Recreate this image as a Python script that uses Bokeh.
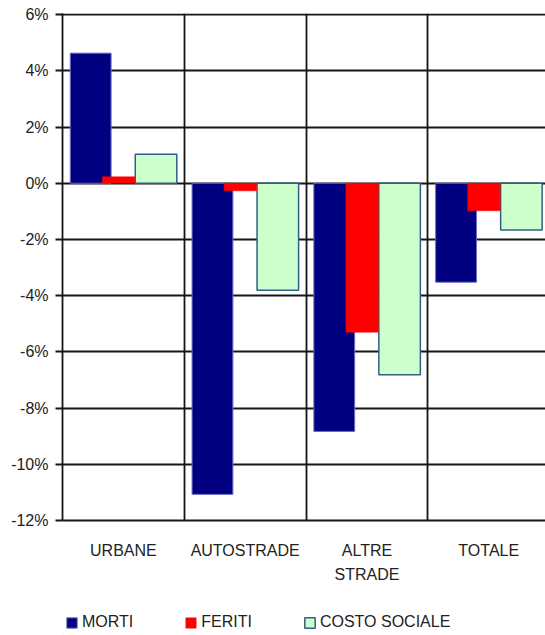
import numpy as np
from bokeh.plotting import figure
from bokeh.layouts import column
from bokeh.models import (Range1d, FixedTicker, PrintfTickFormatter, Legend,
                          LegendItem, ColumnDataSource)
from bokeh.embed import file_html
from bokeh.resources import INLINE

# ---- data ----
categories = ["URBANE", "AUTOSTRADE", "ALTRE\nSTRADE", "TOTALE"]
morti = [4.63, -11.07, -8.83, -3.52]
feriti = [0.23, -0.27, -5.30, -0.98]
costo_sociale = [1.03, -3.81, -6.81, -1.66]
series_names = ["MORTI", "FERITI", "COSTO SOCIALE"]
y_ticks = [-12, -10, -8, -6, -4, -2, 0, 2, 4, 6]

idx = np.arange(len(categories))

FONT = "Liberation Sans"
TXT = "#222222"
GRID = "#151515"
C_M = dict(fill_color="#000080", line_color="#6a6ac0", line_width=1)
C_F = dict(fill_color="#FF0000", line_color="#FF0000", line_width=0.5)
C_C = dict(fill_color="#CCFFCC", line_color="#2f5f85", line_width=1.5)

p = figure(width=545, height=600,
           x_range=Range1d(0, 3.966), y_range=Range1d(-12, 6.04),
           output_backend="svg", toolbar_location=None,
           min_border_left=62, min_border_right=0,
           min_border_top=13, min_border_bottom=80)
p.outline_line_color = None
p.background_fill_color = "white"

# bars (red drawn after blue so it overlaps it)
src_m = ColumnDataSource(dict(x=idx + 0.2315, top=morti))
src_f = ColumnDataSource(dict(x=idx + 0.4606, top=feriti))
src_c = ColumnDataSource(dict(x=idx + 0.768, top=costo_sociale))

p.vbar(x="x", top="top", bottom=0, width=0.335, source=src_m, **C_M)
p.vbar(x="x", top="top", bottom=0, width=0.341, source=src_c, **C_C)
p.vbar(x="x", top="top", bottom=0, width=0.266, source=src_f, **C_F)

# grids
p.xgrid.ticker = FixedTicker(ticks=[1, 2, 3, 4])
p.xgrid.grid_line_color = GRID
p.xgrid.grid_line_width = 1.8
p.ygrid.ticker = FixedTicker(ticks=y_ticks)
p.ygrid.grid_line_color = GRID
p.ygrid.grid_line_width = 1.8

# x axis
p.xaxis.ticker = FixedTicker(ticks=[float(i) + 0.5 for i in idx])
p.xaxis.major_label_overrides = {float(i) + 0.5: c for i, c in zip(idx, categories)}
p.xaxis.major_tick_line_color = None
p.xaxis.minor_tick_line_color = None
p.xaxis.axis_line_color = GRID
p.xaxis.axis_line_width = 1.8
p.xaxis.major_label_standoff = 15
p.xaxis.major_label_text_font = FONT
p.xaxis.major_label_text_font_size = "16px"
p.xaxis.major_label_text_color = TXT
p.xaxis.major_label_text_line_height = 1.45

# y axis
p.yaxis.ticker = FixedTicker(ticks=y_ticks)
p.yaxis.formatter = PrintfTickFormatter(format="%d%%")
p.yaxis.major_tick_in = 0
p.yaxis.major_tick_out = 7
p.yaxis.major_tick_line_width = 1.8
p.yaxis.major_tick_line_color = GRID
p.yaxis.minor_tick_line_color = None
p.yaxis.axis_line_color = GRID
p.yaxis.axis_line_width = 1.8
p.yaxis.major_label_standoff = 7
p.yaxis.major_label_text_font = FONT
p.yaxis.major_label_text_font_size = "16px"
p.yaxis.major_label_text_color = TXT

# ---- legend strip (proxy glyphs kept outside its visible range) ----
pl = figure(width=545, height=35, output_backend="svg", toolbar_location=None,
            x_range=Range1d(10, 11), y_range=Range1d(10, 11),
            x_axis_type=None, y_axis_type=None,
            min_border_left=0, min_border_right=0, min_border_top=0,
            min_border_bottom=0)
pl.outline_line_color = None
pl.xgrid.visible = False
pl.ygrid.visible = False
proxy = dict(x=[0], top=[0])
l_m = pl.vbar(x="x", top="top", width=1, source=ColumnDataSource(proxy), **C_M)
l_f = pl.vbar(x="x", top="top", width=1, source=ColumnDataSource(proxy), **C_F)
l_c = pl.vbar(x="x", top="top", width=1, source=ColumnDataSource(proxy), **C_C)

legend = Legend(items=[LegendItem(label=series_names[0], renderers=[l_m]),
                       LegendItem(label=series_names[1], renderers=[l_f]),
                       LegendItem(label=series_names[2], renderers=[l_c])],
                orientation="horizontal", location=(3, 4),
                glyph_width=13, glyph_height=13, label_standoff=4,
                spacing=51, padding=0, margin=0,
                border_line_color=None, background_fill_alpha=0,
                label_text_font=FONT, label_text_font_size="16px",
                label_text_color=TXT, label_height=16)
pl.add_layout(legend)

layout = column(p, pl, spacing=0)
open("out.html", "w").write(file_html(layout, INLINE))
